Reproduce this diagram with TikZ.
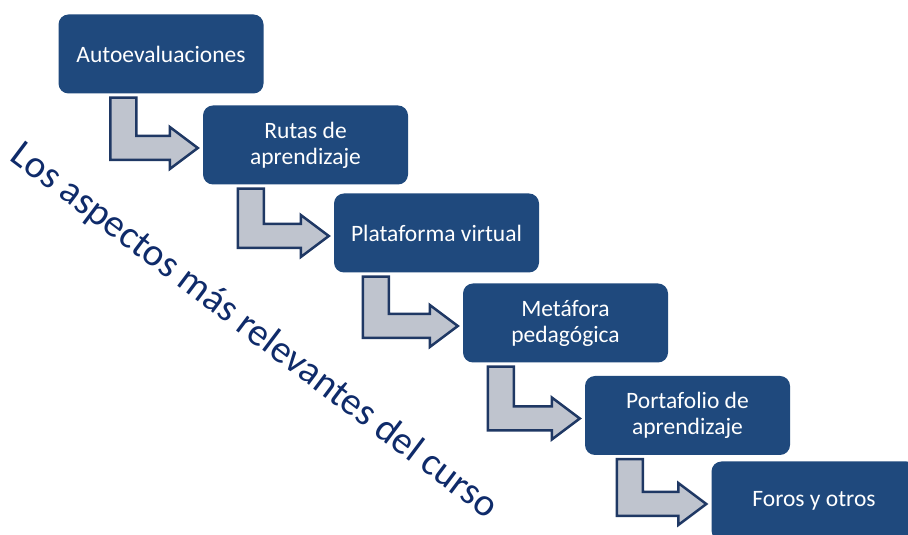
\documentclass[tikz,border=0pt]{standalone}
\usepackage{fontspec}
\setmainfont{Carlito}
\usetikzlibrary{calc}

\definecolor{boxblue}{HTML}{1F497D}
\definecolor{arrowfill}{HTML}{BFC4CE}
\definecolor{arrowline}{HTML}{1F3864}
\definecolor{titleblue}{HTML}{0F2B6A}

\tikzset{
	box/.style={rectangle, rounded corners=10pt, fill=boxblue, text=white, minimum width=205pt,
		minimum height=79pt, align=center, font=\fontsize{23.5}{26}\selectfont},
	bentarrow/.style={fill=arrowfill, draw=arrowline, line width=2.5pt, line join=miter}
}

% bent arrow from the bottom of #1 to the left side of #2, bar shifted by #3
\newcommand{\bentarrow}[3]{%
	\path[bentarrow] let \p1=(#1.south west), \p2=(#2.west) in
	(\x1+#3pt, \y1-4pt) -- (\x1+#3pt+26pt, \y1-4pt) -- (\x1+#3pt+26pt, \y2+9pt)
	-- (\x2-33pt, \y2+9pt) -- (\x2-33pt, \y2+18pt) -- (\x2-5pt, \y2-3pt)
	-- (\x2-33pt, \y2-24pt) -- (\x2-33pt, \y2-15pt) -- (\x1+#3pt, \y2-15pt) -- cycle;}

\begin{document}
\begin{tikzpicture}[x=1pt, y=1pt]
	
	\useasboundingbox (0,0) rectangle (908,535);
	\clip (0,0) rectangle (908,535);
	\fill[white] (0,0) rectangle (908,535);
	
	%Boxes
	\node (autoeval) at (161,481) [box]{Autoevaluaciones};
	\node (rutas) at (305.5,390) [box]{Rutas de\\aprendizaje};
	\node (plataforma) at (436.5,302) [box]{Plataforma virtual};
	\node (metafora) at (565.5,212) [box]{Metáfora\\pedagógica};
	\node (portafolio) at (687.5,119.5) [box]{Portafolio de\\aprendizaje};
	\node (foros) at (814,34) [box]{Foros y otros};
	
	%Bent arrows
	\bentarrow{autoeval}{rutas}{52}
	\bentarrow{rutas}{plataforma}{35}
	\bentarrow{plataforma}{metafora}{29}
	\bentarrow{metafora}{portafolio}{25}
	\bentarrow{portafolio}{foros}{32}
	
	%Diagonal title
	\node (title) at (254,204) [rotate=-37, text=titleblue, font=\fontsize{39}{42}\selectfont]
	{Los aspectos más relevantes del curso};
	
\end{tikzpicture}
\end{document}
